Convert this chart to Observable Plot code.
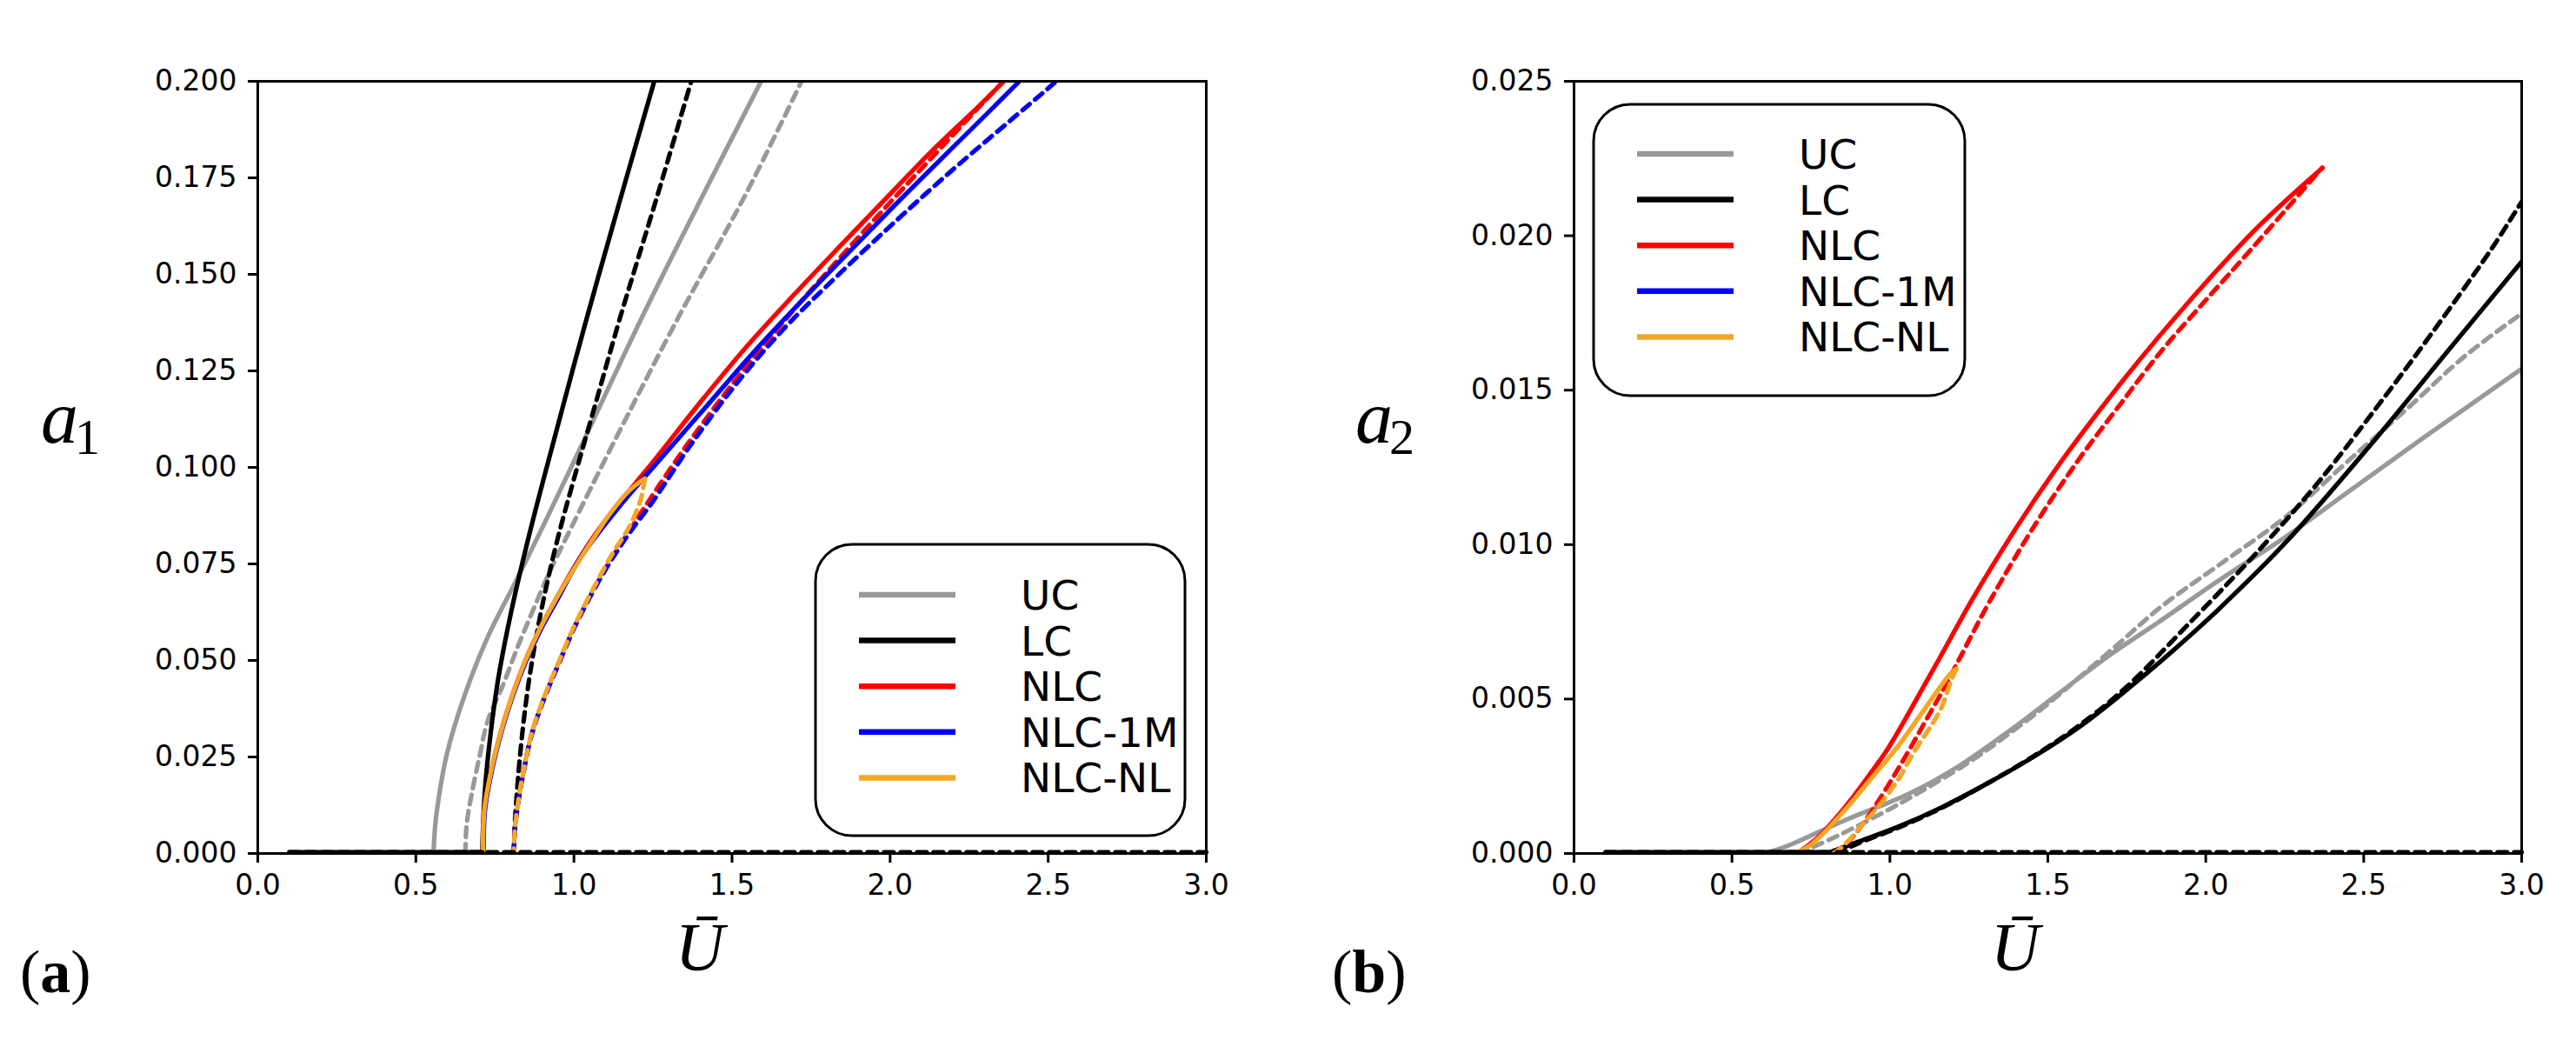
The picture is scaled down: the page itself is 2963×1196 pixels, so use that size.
<!DOCTYPE html>
<html>
<head>
<meta charset="utf-8">
<script src="https://cdn.jsdelivr.net/npm/d3@7"></script>
<script src="https://cdn.jsdelivr.net/npm/@observablehq/plot@0.6"></script>
<style>
  body { margin: 0; background: white; }
  #fig { position: relative; width: 2963px; height: 1196px; background: white; overflow: hidden; }
  #fig > svg { position: absolute; top: 0; }
</style>
</head>
<body>
<div id="fig"></div>
<script>
// ---- ticks and legend ----
const xTicks = [0, 0.5, 1, 1.5, 2, 2.5, 3];
const a1Ticks = [0, 0.025, 0.05, 0.075, 0.1, 0.125, 0.15, 0.175, 0.2];
const a2Ticks = [0, 0.005, 0.01, 0.015, 0.02, 0.025];
const legendLabels = ["UC", "LC", "NLC", "NLC-1M", "NLC-NL"];
const legendColors = ["#999999", "#000000", "#ff0000", "#0000ff", "#f5a623"];

// trivial branch (a = 0)
const zeroU = [0.1, 3.0];
const zeroA = [0, 0];
const lcZeroU1 = [0.1, 0.71];
const lcZeroU2 = [0.1, 0.8];

// ---- panel (a): a1 vs U ----
const ucSolidU1 = [0.556, 0.559, 0.566, 0.598, 0.653, 0.726, 0.818, 0.905, 1.02, 1.21, 1.405, 1.592];
const ucSolidA1 = [0, 0.005, 0.0108, 0.0257, 0.0407, 0.0558, 0.0708, 0.0852, 0.1050, 0.1380, 0.1700, 0.2];
const ucDashU1 = [0.657, 0.660, 0.676, 0.703, 0.726, 0.776, 0.822, 0.868, 0.919, 0.992, 1.125, 1.328, 1.543, 1.72];
const ucDashA1 = [0, 0.007, 0.0152, 0.0257, 0.034, 0.0437, 0.0535, 0.0625, 0.0722, 0.0845, 0.1063, 0.1385, 0.1707, 0.2];
const lcSolidU1 = [0.71, 0.713, 0.72, 0.735, 0.76, 0.80, 0.86, 0.93, 1.035, 1.145, 1.254];
const lcSolidA1 = [0, 0.008, 0.018, 0.030, 0.045, 0.062, 0.083, 0.105, 0.137, 0.169, 0.2];
const lcDashU1 = [0.81, 0.812, 0.818, 0.828, 0.842, 0.86, 0.885, 0.915, 0.95, 1.0, 1.07, 1.145, 1.265, 1.371];
const lcDashA1 = [0, 0.006, 0.014, 0.024, 0.035, 0.046, 0.058, 0.070, 0.082, 0.097, 0.117, 0.1385, 0.1707, 0.2];
const nlcSolidU1 = [0.712, 0.717, 0.740, 0.767, 0.804, 0.845, 0.891, 0.946, 1.012, 1.07, 1.138, 1.249, 1.396, 1.543, 1.691, 1.838, 1.985, 2.133, 2.28, 2.36];
const nlcSolidA1 = [0, 0.0115, 0.022, 0.031, 0.0407, 0.0497, 0.058, 0.0663, 0.0757, 0.0830, 0.0903, 0.1013, 0.1165, 0.1310, 0.1443, 0.1570, 0.1695, 0.1820, 0.1935, 0.2];
const nlcDashU1 = [0.81, 0.814, 0.829, 0.841, 0.864, 0.905, 0.951, 0.996, 1.047, 1.107, 1.171, 1.230, 1.359, 1.507, 1.666, 1.838, 2.01, 2.169, 2.329, 2.358];
const nlcDashA1 = [0, 0.007, 0.016, 0.0212, 0.0302, 0.040, 0.049, 0.0576, 0.0659, 0.0748, 0.0830, 0.0905, 0.1060, 0.1222, 0.1380, 0.1540, 0.1695, 0.1835, 0.1975, 0.2];
const m1SolidU1 = [0.714, 0.719, 0.742, 0.769, 0.806, 0.848, 0.895, 0.951, 1.02, 1.14, 1.261, 1.421, 1.568, 1.727, 1.875, 2.022, 2.169, 2.305, 2.409];
const m1SolidA1 = [0, 0.0115, 0.022, 0.031, 0.0407, 0.0497, 0.058, 0.0663, 0.0765, 0.0895, 0.1010, 0.1160, 0.1298, 0.1437, 0.1562, 0.1685, 0.1805, 0.1915, 0.2];
const m1DashU1 = [0.81, 0.814, 0.829, 0.841, 0.864, 0.905, 0.951, 0.996, 1.047, 1.107, 1.171, 1.249, 1.371, 1.519, 1.666, 1.838, 2.01, 2.194, 2.378, 2.486, 2.525];
const m1DashA1 = [0, 0.007, 0.016, 0.0212, 0.0302, 0.040, 0.049, 0.0576, 0.0659, 0.0745, 0.0825, 0.0911, 0.1060, 0.1222, 0.1361, 0.1500, 0.1632, 0.1768, 0.1897, 0.1972, 0.2];
const nlSolidU1 = [0.712, 0.717, 0.740, 0.767, 0.804, 0.845, 0.891, 0.946, 1.010, 1.065, 1.114, 1.175, 1.224];
const nlSolidA1 = [0, 0.0115, 0.022, 0.031, 0.0407, 0.0497, 0.058, 0.0663, 0.0750, 0.0820, 0.0880, 0.0940, 0.0971];
const nlDashU1 = [1.224, 1.212, 1.175, 1.12, 1.047, 0.996, 0.951, 0.905, 0.864, 0.841, 0.829, 0.814, 0.81];
const nlDashA1 = [0.0971, 0.0919, 0.0846, 0.0774, 0.0664, 0.058, 0.0494, 0.0404, 0.0305, 0.0214, 0.0162, 0.007, 0];

// ---- panel (b): a2 vs U ----
const ucSolidU2 = [0.5, 0.6, 0.65, 0.7, 0.78, 0.87, 0.96, 1.06, 1.22, 1.378, 1.536, 1.694, 1.852, 2.05, 2.253, 2.45, 2.648, 2.82, 3.0];
const ucSolidA2 = [0, 0.00002, 0.00015, 0.00035, 0.00072, 0.00113, 0.0015, 0.00193, 0.00284, 0.00397, 0.00519, 0.00641, 0.00750, 0.0089, 0.01025, 0.0117, 0.01316, 0.0144, 0.01569];
const ucDashU2 = [0.71, 0.84, 0.998, 1.114, 1.272, 1.367, 1.483, 1.588, 1.725, 1.86, 2.05, 2.253, 2.45, 2.648, 2.82, 3.0];
const ucDashA2 = [0, 0.0006, 0.00143, 0.0021, 0.0031, 0.0038, 0.0047, 0.0056, 0.0068, 0.0080, 0.0094, 0.0109, 0.0127, 0.0145, 0.0161, 0.01748];
const lcSolidU2 = [0.8, 0.9, 1.03, 1.165, 1.3, 1.45, 1.6, 1.75, 1.9, 2.041, 2.253, 2.516, 2.78, 3.0];
const lcSolidA2 = [0, 0.00038, 0.00088, 0.0015, 0.00222, 0.0031, 0.0041, 0.0053, 0.0066, 0.00791, 0.01007, 0.01316, 0.01644, 0.01916];
const lcDashU2 = [0.83, 0.9, 1.03, 1.165, 1.3, 1.45, 1.6, 1.75, 1.937, 2.174, 2.358, 2.543, 2.714, 2.905, 3.0];
const lcDashA2 = [0, 0.00033, 0.00085, 0.00148, 0.00222, 0.00312, 0.00415, 0.0054, 0.00734, 0.00988, 0.01204, 0.01447, 0.01682, 0.01958, 0.0211];
const nlcSolidU2 = [0.706, 0.77, 0.825, 0.881, 0.936, 0.991, 1.046, 1.101, 1.156, 1.265, 1.397, 1.529, 1.66, 1.792, 1.924, 2.055, 2.147, 2.26, 2.37];
const nlcSolidA2 = [0, 0.0005, 0.0011, 0.0018, 0.00256, 0.00335, 0.0043, 0.0053, 0.0063, 0.0083, 0.0105, 0.0125, 0.0143, 0.0160, 0.0176, 0.0191, 0.0201, 0.0212, 0.0222];
const nlcDashU2 = [0.823, 0.87, 0.91, 0.954, 1.009, 1.064, 1.119, 1.174, 1.225, 1.318, 1.463, 1.594, 1.726, 1.858, 1.99, 2.095, 2.25, 2.368];
const nlcDashA2 = [0, 0.0004, 0.0009, 0.00155, 0.00245, 0.0034, 0.0044, 0.0054, 0.0064, 0.0082, 0.0107, 0.0127, 0.0145, 0.01625, 0.0178, 0.0190, 0.0208, 0.0222];
const nlSolidU2 = [0.70, 0.752, 0.844, 0.936, 1.028, 1.119, 1.193, 1.211];
const nlSolidA2 = [0, 0.0003, 0.00125, 0.00237, 0.0035, 0.00481, 0.00584, 0.00598];
const nlDashU2 = [1.211, 1.195, 1.163, 1.126, 1.095, 1.062, 1.031, 0.999, 0.957, 0.915, 0.877, 0.84, 0.82];
const nlDashA2 = [0.00598, 0.00563, 0.00472, 0.00406, 0.00359, 0.00303, 0.00247, 0.002, 0.00144, 0.00097, 0.0005, 0.00014, 0];

// ---- helpers ----
const rows = (U, a) => U.map((u, i) => ({U: u, a: a[i]}));
const DASH = "11,8";
const GRAY = legendColors[0], BLACK = legendColors[1], RED = legendColors[2], BLUE = legendColors[3], ORANGE = legendColors[4];

const seriesA = [
  {U: ucSolidU1, a: ucSolidA1, color: GRAY},
  {U: ucDashU1, a: ucDashA1, color: GRAY, dash: DASH},
  {U: lcSolidU1, a: lcSolidA1, color: BLACK},
  {U: lcDashU1, a: lcDashA1, color: BLACK, dash: DASH},
  {U: nlcSolidU1, a: nlcSolidA1, color: RED},
  {U: nlcDashU1, a: nlcDashA1, color: RED, dash: DASH},
  {U: m1SolidU1, a: m1SolidA1, color: BLUE},
  {U: m1DashU1, a: m1DashA1, color: BLUE, dash: DASH},
  {U: nlSolidU1, a: nlSolidA1, color: ORANGE},
  {U: nlDashU1, a: nlDashA1, color: ORANGE, dash: DASH}
];

const seriesB = [
  {U: ucSolidU2, a: ucSolidA2, color: GRAY},
  {U: ucDashU2, a: ucDashA2, color: GRAY, dash: DASH},
  {U: lcSolidU2, a: lcSolidA2, color: BLACK},
  {U: lcDashU2, a: lcDashA2, color: BLACK, dash: DASH},
  {U: nlcSolidU2, a: nlcSolidA2, color: RED},
  {U: nlcDashU2, a: nlcDashA2, color: RED, dash: DASH},
  {U: nlSolidU2, a: nlSolidA2, color: ORANGE},
  {U: nlDashU2, a: nlDashA2, color: ORANGE, dash: DASH}
];

function panel(series, lcZeroU, yDomain, yTicks, width, marginLeft, marginRight) {
  return Plot.plot({
    width: width,
    height: 1196,
    marginLeft: marginLeft,
    marginRight: marginRight,
    marginTop: 93,
    marginBottom: 215,
    style: {fontFamily: "DejaVu Sans", color: "black", background: "transparent", overflow: "visible"},
    x: {domain: [0, 3]},
    y: {domain: yDomain},
    marks: [
      ...series.map(s => Plot.line(rows(s.U, s.a), {
        x: "U",
        y: "a",
        stroke: s.color,
        strokeWidth: 5.2,
        strokeDasharray: s.dash,
        curve: "catmull-rom",
        clip: true
      })),
      Plot.frame({stroke: "black", strokeWidth: 3}),
      // trivial branch drawn on the bottom spine: solid part, then dashed to 3.0
      Plot.line(rows(lcZeroU, zeroA), {x: "U", y: "a", stroke: BLACK, strokeWidth: 5.2, dy: -1.5}),
      Plot.line(rows(zeroU, zeroA), {x: "U", y: "a", stroke: BLACK, strokeWidth: 5.2, strokeDasharray: DASH, dy: -1.5}),
      Plot.axisX({ticks: xTicks, tickFormat: d3.format(".1f"), tickSize: 11, tickPadding: 13,
        fontSize: 33, strokeWidth: 3, label: null}),
      Plot.axisY({ticks: yTicks, tickFormat: d3.format(".3f"), tickSize: 11, tickPadding: 13,
        fontSize: 33, strokeWidth: 3, label: null})
    ]
  });
}

const fig = document.getElementById("fig");

const chartA = panel(seriesA, lcZeroU1, [0, 0.2], a1Ticks, 1480, 296, 93);
chartA.style.left = "0px";
fig.appendChild(chartA);

const chartB = panel(seriesB, lcZeroU2, [0, 0.025], a2Ticks, 1483, 330, 63);
chartB.style.left = "1480px";
fig.appendChild(chartB);

// ---- overlay: axis titles, panel tags, legends ----
const over = d3.select(fig).append("svg")
  .attr("width", 2963).attr("height", 1196)
  .style("left", "0px")
  .style("pointer-events", "none");

const serif = "'Liberation Serif', 'DejaVu Serif', serif";

function yTitle(x, sub) {
  const t = over.append("text").attr("font-family", serif);
  t.append("tspan").attr("x", x).attr("y", 509).attr("font-size", 86).attr("font-style", "italic").text("a");
  t.append("tspan").attr("x", x + 39).attr("y", 522).attr("font-size", 58).text(sub);
}
yTitle(47, "1");
yTitle(1559, "2");

[805, 2318].forEach(cx => {
  over.append("text")
    .attr("x", cx).attr("y", 1115)
    .attr("text-anchor", "middle")
    .attr("font-family", serif).attr("font-style", "italic").attr("font-size", 78)
    .text("Ū");
});

[[23, "a"], [1532, "b"]].forEach(([x, tag]) => {
  const t = over.append("text").attr("x", x).attr("y", 1141)
    .attr("font-family", serif).attr("font-size", 70);
  t.append("tspan").text("(");
  t.append("tspan").attr("font-weight", "bold").text(tag);
  t.append("tspan").text(")");
});

function legend(x0, y0, w, h, firstRow) {
  const g = over.append("g");
  g.append("rect")
    .attr("x", x0).attr("y", y0).attr("width", w).attr("height", h)
    .attr("rx", 42).attr("ry", 42)
    .attr("fill", "white").attr("stroke", "black").attr("stroke-width", 3);
  legendLabels.forEach((label, i) => {
    const cy = firstRow + i * 52.6;
    g.append("line")
      .attr("x1", x0 + 50).attr("x2", x0 + 161)
      .attr("y1", cy).attr("y2", cy)
      .attr("stroke", legendColors[i]).attr("stroke-width", 6.5);
    g.append("text")
      .attr("x", x0 + 236).attr("y", cy + 17)
      .attr("font-family", "DejaVu Sans").attr("font-size", 47)
      .text(label);
  });
}
legend(938, 626, 425, 335, 684);
legend(1833, 120, 427, 335, 177);
</script>
</body>
</html>
